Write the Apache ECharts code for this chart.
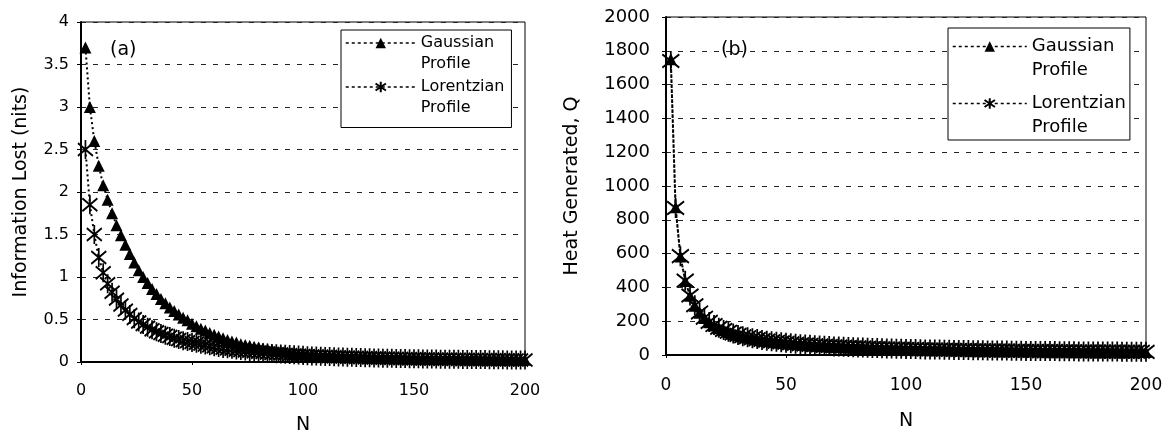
<!DOCTYPE html>
<html>
<head>
<meta charset="utf-8">
<title>Information lost and heat generated vs N</title>
<script src="https://cdn.jsdelivr.net/npm/echarts@6/dist/echarts.min.js"></script>
<style>
  html, body { margin: 0; padding: 0; background: #fff; }
  #chart { width: 1170px; height: 435px; }
</style>
</head>
<body>
<div id="chart"></div>
<script>
// Number of elements N (x values shared by all four curves)
const nValues = [
  2, 4, 6, 8, 10, 12, 14, 16, 18, 20,
  22, 24, 26, 28, 30, 32, 34, 36, 38, 40,
  42, 44, 46, 48, 50, 52, 54, 56, 58, 60,
  62, 64, 66, 68, 70, 72, 74, 76, 78, 80,
  82, 84, 86, 88, 90, 92, 94, 96, 98, 100,
  102, 104, 106, 108, 110, 112, 114, 116, 118, 120,
  122, 124, 126, 128, 130, 132, 134, 136, 138, 140,
  142, 144, 146, 148, 150, 152, 154, 156, 158, 160,
  162, 164, 166, 168, 170, 172, 174, 176, 178, 180,
  182, 184, 186, 188, 190, 192, 194, 196, 198, 200
];

// (a) Information lost (nits)
const infoGaussian = [
  3.70, 3.00, 2.60, 2.31, 2.08, 1.91, 1.75, 1.61, 1.49, 1.38,
  1.27, 1.17, 1.08, 1.00, 0.93, 0.86, 0.80, 0.74, 0.69, 0.64,
  0.60, 0.56, 0.52, 0.49, 0.45, 0.42, 0.39, 0.37, 0.34, 0.32,
  0.30, 0.28, 0.26, 0.24, 0.23, 0.21, 0.20, 0.19, 0.18, 0.17,
  0.16, 0.15, 0.14, 0.13, 0.125, 0.12, 0.11, 0.105, 0.10, 0.095,
  0.09, 0.087, 0.083, 0.08, 0.077, 0.074, 0.071, 0.068, 0.066, 0.064,
  0.062, 0.06, 0.058, 0.056, 0.054, 0.053, 0.051, 0.05, 0.048, 0.047,
  0.046, 0.045, 0.044, 0.043, 0.042, 0.041, 0.04, 0.039, 0.038, 0.037,
  0.036, 0.036, 0.035, 0.034, 0.034, 0.033, 0.032, 0.032, 0.031, 0.031,
  0.03, 0.03, 0.029, 0.029, 0.028, 0.028, 0.027, 0.027, 0.026, 0.026
];
const infoLorentzian = [
  2.50, 1.85, 1.50, 1.23, 1.05, 0.92, 0.82, 0.74, 0.67, 0.61,
  0.56, 0.51, 0.47, 0.44, 0.41, 0.38, 0.355, 0.335, 0.315, 0.30,
  0.28, 0.265, 0.25, 0.24, 0.23, 0.22, 0.21, 0.20, 0.19, 0.18,
  0.17, 0.16, 0.155, 0.15, 0.14, 0.135, 0.13, 0.125, 0.12, 0.115,
  0.11, 0.105, 0.10, 0.097, 0.094, 0.09, 0.087, 0.084, 0.081, 0.078,
  0.075, 0.072, 0.07, 0.068, 0.066, 0.064, 0.062, 0.06, 0.058, 0.056,
  0.055, 0.053, 0.052, 0.05, 0.049, 0.048, 0.046, 0.045, 0.044, 0.043,
  0.042, 0.041, 0.04, 0.039, 0.038, 0.037, 0.036, 0.036, 0.035, 0.034,
  0.033, 0.033, 0.032, 0.031, 0.031, 0.03, 0.03, 0.029, 0.029, 0.028,
  0.028, 0.027, 0.027, 0.026, 0.026, 0.025, 0.025, 0.024, 0.024, 0.024
];

// (b) Heat generated, Q
const heatGaussian = [
  1750, 875, 583, 438, 350, 292, 250, 219, 194, 175,
  159, 146, 135, 125, 117, 109, 103, 97, 92, 88,
  83, 80, 76, 73, 70, 67, 65, 62.5, 60, 58,
  56, 55, 53, 51, 50, 49, 47, 46, 45, 44,
  43, 42, 41, 40, 39, 38, 37, 36.5, 36, 35,
  34, 34, 33, 32, 32, 31, 31, 30, 30, 29,
  29, 28, 28, 27, 27, 26.5, 26, 26, 25, 25,
  25, 24, 24, 24, 23, 23, 23, 22, 22, 22,
  22, 21, 21, 21, 21, 20, 20, 20, 20, 19,
  19, 19, 19, 19, 18, 18, 18, 18, 18, 17.5
];
const heatLorentzian = [
  1740, 870, 585, 440, 352, 294, 252, 221, 196, 177,
  161, 148, 137, 127, 119, 111, 105, 99, 94, 89,
  85, 81, 78, 75, 72, 69, 66, 64, 62, 60,
  58, 56, 54, 53, 51, 50, 49, 47, 46, 45,
  44, 43, 42, 41, 40, 39, 38, 37.5, 37, 36,
  35, 35, 34, 33, 33, 32, 32, 31, 31, 30,
  30, 29, 29, 28, 28, 27.5, 27, 27, 26, 26,
  26, 25, 25, 25, 24, 24, 24, 23, 23, 23,
  23, 22, 22, 22, 22, 21, 21, 21, 21, 20,
  20, 20, 20, 20, 19, 19, 19, 19, 19, 18.5
];

const seriesNames = ['Gaussian Profile', 'Lorentzian Profile'];
const panelLabels = ['(a)', '(b)'];
const xTitle = 'N';
const yTitles = ['Information Lost (nits)', 'Heat Generated, Q'];

const FONT = 'DejaVu Sans';
// asterisk marker: vertical stroke plus two diagonals
const ASTERISK = 'path://M5,0L5,12M0,2L10,10M0,10L10,2';

const pairs = (ys) => nValues.map((n, i) => [n, ys[i]]);

function lineSeries(name, idx, ys, isStar, big) {
  return {
    name: name,
    type: 'line',
    xAxisIndex: idx,
    yAxisIndex: idx,
    data: pairs(ys),
    symbol: isStar ? ASTERISK : 'triangle',
    symbolSize: isStar ? (big ? [17, 20] : [15, 19]) : 12,
    symbolKeepAspect: false,
    showAllSymbol: true,
    lineStyle: { color: '#000', width: 2, type: [2, 3] },
    itemStyle: isStar
      ? { color: 'rgba(0,0,0,0)', borderColor: '#000', borderWidth: 1.9 }
      : { color: '#000' },
    emphasis: { disabled: true },
    z: isStar ? 3 : 2
  };
}

function xAxis(idx, margin, gap) {
  return {
    type: 'value',
    gridIndex: idx,
    min: 0, max: 200, interval: 50,
    name: xTitle,
    nameLocation: 'middle',
    nameGap: gap,
    nameTextStyle: { fontFamily: FONT, fontSize: 19, color: '#000' },
    axisLine: { show: true, lineStyle: { color: '#000', width: 2 } },
    axisTick: { show: true, length: 3, lineStyle: { color: '#000' } },
    axisLabel: { fontFamily: FONT, fontSize: idx ? 17 : 16, color: '#000', margin: margin },
    splitLine: { show: false }
  };
}

function yAxis(idx, max, interval, margin, gap) {
  return {
    type: 'value',
    gridIndex: idx,
    min: 0, max: max, interval: interval,
    name: yTitles[idx],
    nameLocation: 'middle',
    nameGap: gap,
    nameTextStyle: { fontFamily: FONT, fontSize: 19, color: '#000' },
    axisLine: { show: true, lineStyle: { color: '#000', width: 2 } },
    axisTick: { show: true, length: 4, lineStyle: { color: '#000' } },
    axisLabel: {
      fontFamily: FONT, fontSize: idx ? 18 : 16, color: '#000', margin: margin,
      formatter: (v) => String(v)
    },
    splitLine: { show: true, lineStyle: { color: '#222', width: 1, type: [5, 7] } }
  };
}

// Two-line legend entries; the leading blank line keeps the icon level
// with the first line of each label.
function legend(left, top, fontSize, lineH, iconW, gap, pad) {
  return {
    orient: 'vertical',
    left: left,
    top: top,
    align: 'left',
    data: seriesNames,
    formatter: (name) => '\n' + name.replace(' ', '\n'),
    itemWidth: iconW,
    itemHeight: 13,
    itemGap: gap,
    padding: pad,
    borderColor: '#000',
    borderWidth: 1,
    backgroundColor: '#fff',
    selectedMode: false,
    lineStyle: { type: [3, 3], width: 1.5, color: '#000' },
    textStyle: { fontFamily: FONT, fontSize: fontSize, lineHeight: lineH, color: '#000' }
  };
}

const chart = echarts.init(document.getElementById('chart'), null, { renderer: 'canvas' });
chart.setOption({
  animation: false,
  backgroundColor: '#fff',
  title: [
    { text: panelLabels[0], left: 105, top: 36,
      textStyle: { fontFamily: FONT, fontSize: 19, fontWeight: 'normal', color: '#000' } },
    { text: panelLabels[1], left: 716, top: 36,
      textStyle: { fontFamily: FONT, fontSize: 19, fontWeight: 'normal', color: '#000' } }
  ],
  grid: [
    { left: 81, top: 22, width: 444, height: 340, outerBoundsMode: 'none', containLabel: false,
      show: true, borderColor: '#000', borderWidth: 1, backgroundColor: 'transparent' },
    { left: 666, top: 17, width: 480, height: 338, outerBoundsMode: 'none', containLabel: false,
      show: true, borderColor: '#000', borderWidth: 1, backgroundColor: 'transparent' }
  ],
  xAxis: [xAxis(0, 21, 54), xAxis(1, 22, 57)],
  yAxis: [yAxis(0, 4, 0.5, 12, 50), yAxis(1, 2000, 200, 16, 84)],
  legend: [
    legend(341, 30, 16, 21, 70, -19, [-18.5, 7, 9, 4]),
    legend(948, 28, 18, 24, 74, -15, [-17.5, 4, 0.5, 4])
  ],
  series: [
    lineSeries(seriesNames[0], 0, infoGaussian, false, false),
    lineSeries(seriesNames[1], 0, infoLorentzian, true, false),
    lineSeries(seriesNames[0], 1, heatGaussian, false, true),
    lineSeries(seriesNames[1], 1, heatLorentzian, true, true)
  ]
});
</script>
</body>
</html>
